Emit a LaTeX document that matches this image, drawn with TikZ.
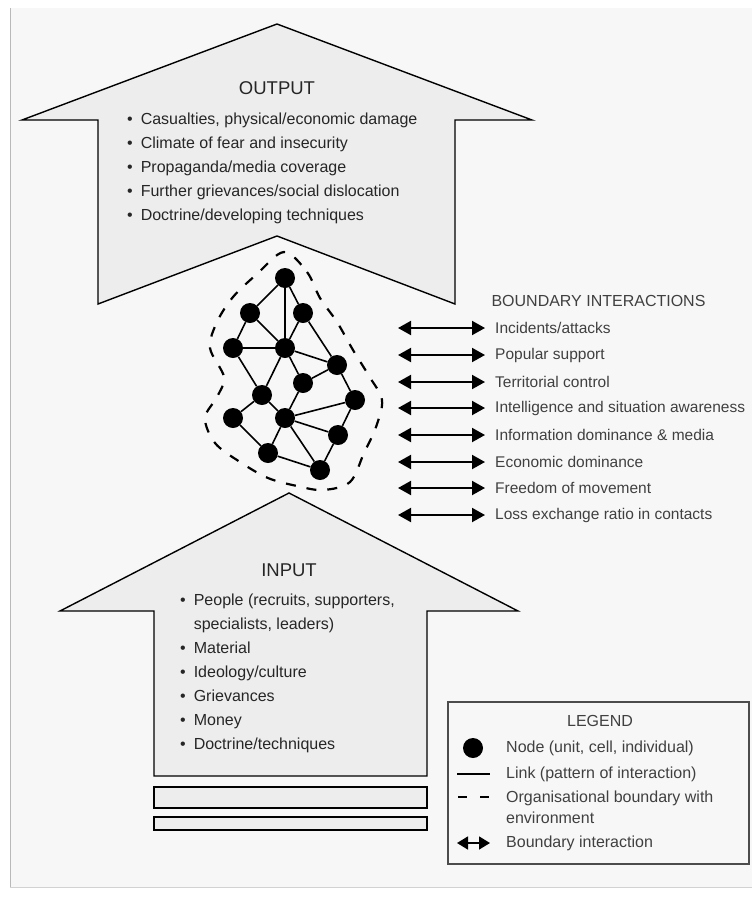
\documentclass[tikz,border=0pt]{standalone}
\usepackage{fontspec}
\setmainfont{Liberation Sans}
\usetikzlibrary{arrows.meta}

\tikzset{
    bigarrow/.style={draw=black, line width=1.4pt, fill=gray!14, line join=miter},
    agent/.style={circle, fill=black, minimum size=20pt, inner sep=0pt},
    link/.style={line width=1.6pt},
    boundary/.style={line width=2.2pt, dash pattern=on 10pt off 11pt},
    biarrow/.style={{Triangle[length=13pt,width=14pt]}-{Triangle[length=13pt,width=14pt]}, line width=2pt},
    interaction/.style={anchor=west, text=black!75, inner sep=4pt, font=\fontsize{15.5}{18}\selectfont},
    legtext/.style={anchor=west, text=black!75, inner sep=0pt, align=left, font=\fontsize{16}{21}\selectfont},
    heading/.style={text=black!85, font=\fontsize{18.5}{22}\selectfont},
    itemlist/.style={anchor=west, inner sep=0pt, text=black!85, font=\fontsize{16}{24}\selectfont}
}

\begin{document}
\begin{tikzpicture}[x=1pt, y=-1pt]

    % Page with its frame
    \useasboundingbox (0,0) rectangle (752,908);
    \fill[gray!6] (10,8) rectangle (752,887);
    \draw[gray!55, line width=1pt] (10.5,8) -- (10.5,887);
    \draw[gray!35, line width=1pt] (10,887) -- (752,887);

    % Output arrow
    \draw[bigarrow] (22,120) -- (277,24) -- (532,120) -- (455,120) -- (455,304)
        -- (277,236) -- (98,304) -- (98,120) -- cycle;
    \node[heading] (outtitle) at (277,88) {OUTPUT};
    \node[itemlist] (outlist) at (127,168) {\begin{tabular}{@{}c@{\hspace{8pt}}l@{}}
        \textbullet & Casualties, physical/economic damage\\
        \textbullet & Climate of fear and insecurity\\
        \textbullet & Propaganda/media coverage\\
        \textbullet & Further grievances/social dislocation\\
        \textbullet & Doctrine/developing techniques
    \end{tabular}};

    % Input arrow with its two bars
    \draw[bigarrow] (60,611) -- (289,493) -- (518,611) -- (427,611) -- (427,776)
        -- (154,776) -- (154,611) -- cycle;
    \draw[bigarrow, line width=1.8pt] (154,787) rectangle (427,808);
    \draw[bigarrow, line width=1.8pt] (154,817) rectangle (427,830);
    \node[heading] (intitle) at (289,570) {INPUT};
    \node[itemlist] (inlist) at (180,673) {\begin{tabular}{@{}c@{\hspace{8pt}}l@{}}
        \textbullet & People (recruits, supporters,\\
                    & specialists, leaders)\\
        \textbullet & Material\\
        \textbullet & Ideology/culture\\
        \textbullet & Grievances\\
        \textbullet & Money\\
        \textbullet & Doctrine/techniques
    \end{tabular}};

    % Organisational boundary
    \draw[boundary] plot[smooth cycle, tension=0.55] coordinates {
        (284,252) (307,272) (320,298) (337,322) (353,350) (369,376) (382,400)
        (376,427) (364,453) (350,482) (323,490) (297,486) (268,478) (240,462)
        (215,443) (205,418) (217,397) (224,377) (210,348) (217,322) (233,297) (257,274)};

    % Network of cells
    \node[agent] (n1) at (285,278) {};
    \node[agent] (n2) at (250,313) {};
    \node[agent] (n3) at (303,313) {};
    \node[agent] (n4) at (233,348) {};
    \node[agent] (n5) at (285,348) {};
    \node[agent] (n6) at (337,365) {};
    \node[agent] (n7) at (303,383) {};
    \node[agent] (n8) at (262,395) {};
    \node[agent] (n9) at (355,400) {};
    \node[agent] (n10) at (233,418) {};
    \node[agent] (n11) at (285,418) {};
    \node[agent] (n12) at (338,435) {};
    \node[agent] (n13) at (268,453) {};
    \node[agent] (n14) at (320,470) {};
    \draw[link] (n1) -- (n2) (n1) -- (n3) (n1) -- (n5) (n2) -- (n4) (n2) -- (n5)
        (n3) -- (n5) (n3) -- (n6) (n4) -- (n5) (n4) -- (n8) (n5) -- (n6)
        (n5) -- (n7) (n5) -- (n8) (n6) -- (n7) (n6) -- (n9) (n7) -- (n11)
        (n8) -- (n10) (n8) -- (n11) (n9) -- (n11) (n9) -- (n12) (n10) -- (n13)
        (n11) -- (n12) (n11) -- (n13) (n11) -- (n14) (n12) -- (n14) (n13) -- (n14);

    % Boundary interactions
    \node[anchor=west, text=black!75, font=\fontsize{16}{18}\selectfont] (bhead) at (488,301) {BOUNDARY INTERACTIONS};
    \coordinate (a1) at (398,328);
    \coordinate (a2) at (398,355);
    \coordinate (a3) at (398,382);
    \coordinate (a4) at (398,408);
    \coordinate (a5) at (398,435);
    \coordinate (a6) at (398,462);
    \coordinate (a7) at (398,488);
    \coordinate (a8) at (398,515);
    \node[interaction] (l1) at (491,328) {Incidents/attacks};
    \node[interaction] (l2) at (491,355) {Popular support};
    \node[interaction] (l3) at (491,382) {Territorial control};
    \node[interaction] (l4) at (491,408) {Intelligence and situation awareness};
    \node[interaction] (l5) at (491,435) {Information dominance \& media};
    \node[interaction] (l6) at (491,462) {Economic dominance};
    \node[interaction] (l7) at (491,488) {Freedom of movement};
    \node[interaction] (l8) at (491,515) {Loss exchange ratio in contacts};
    \draw[biarrow, shorten >=6pt] (a1) -- (l1.west);
    \draw[biarrow, shorten >=6pt] (a2) -- (l2.west);
    \draw[biarrow, shorten >=6pt] (a3) -- (l3.west);
    \draw[biarrow, shorten >=6pt] (a4) -- (l4.west);
    \draw[biarrow, shorten >=6pt] (a5) -- (l5.west);
    \draw[biarrow, shorten >=6pt] (a6) -- (l6.west);
    \draw[biarrow, shorten >=6pt] (a7) -- (l7.west);
    \draw[biarrow, shorten >=6pt] (a8) -- (l8.west);

    % Legend
    \draw[gray!60!black, line width=1.2pt] (448,702) rectangle (749,864);
    \node[text=black!75, font=\fontsize{16}{18}\selectfont] (legtitle) at (600,721) {LEGEND};
    \node[agent] (legnode) at (473,748) {};
    \node[legtext] (lt1) at (506,748) {Node (unit, cell, individual)};
    \coordinate (ls1) at (457,774);
    \coordinate (ls2) at (490,774);
    \draw[link] (ls1) -- (ls2);
    \node[legtext] (lt2) at (506,774) {Link (pattern of interaction)};
    \coordinate (lb1) at (458,797);
    \coordinate (lb2) at (490,797);
    \draw[boundary, dash pattern=on 9pt off 13pt] (lb1) -- (lb2);
    \node[legtext] (lt3) at (506,807.5) {Organisational boundary with\\environment};
    \coordinate (lr1) at (457,843);
    \coordinate (lr2) at (490,843);
    \draw[{Triangle[length=11pt,width=13pt]}-{Triangle[length=11pt,width=13pt]}, line width=1.6pt] (lr1) -- (lr2);
    \node[legtext] (lt4) at (506,843) {Boundary interaction};

\end{tikzpicture}
\end{document}
